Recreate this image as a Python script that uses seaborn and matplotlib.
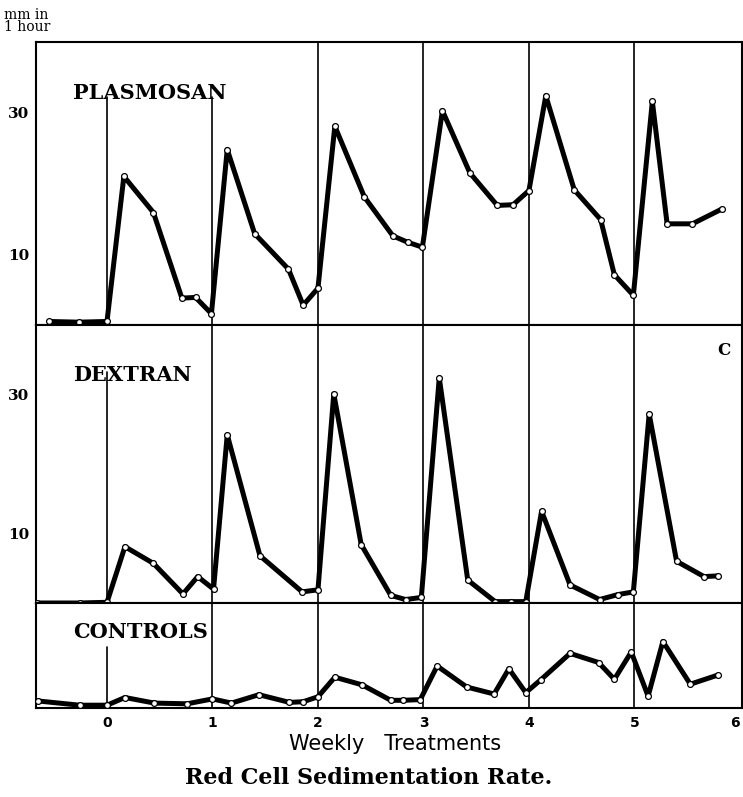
import numpy as np
import pandas as pd
import matplotlib
matplotlib.use("Agg")
import matplotlib.pyplot as plt
import seaborn as sns

# ---- data (x in weeks, y in mm in 1 hour) ----
plasmosan_x = [-0.55, -0.27, 0.0, 0.16, 0.44, 0.71, 0.84, 0.99, 1.14, 1.40, 1.72, 1.86, 2.0, 2.16,
               2.44, 2.71, 2.85, 2.99, 3.18, 3.44, 3.70, 3.85, 4.0, 4.16, 4.43, 4.68, 4.81, 4.99,
               5.17, 5.31, 5.55, 5.83]
plasmosan_y = [0.5, 0.4, 0.5, 21.0, 15.9, 3.8, 3.9, 1.6, 24.8, 12.9, 7.9, 2.8, 5.2, 28.1,
               18.1, 12.6, 11.7, 11.0, 30.3, 21.5, 16.9, 17.0, 19.0, 32.4, 19.1, 14.9, 7.1, 4.2,
               31.6, 14.3, 14.3, 16.4]

dextran_x = [-0.66, -0.26, 0.0, 0.17, 0.44, 0.72, 0.86, 1.01, 1.14, 1.45, 1.85, 2.0, 2.15, 2.41,
             2.69, 2.83, 2.98, 3.15, 3.42, 3.68, 3.83, 3.97, 4.12, 4.39, 4.67, 4.84, 4.99, 5.14,
             5.40, 5.66, 5.79]
dextran_y = [0.0, 0.0, 0.1, 8.1, 5.7, 1.3, 3.8, 2.0, 24.2, 6.8, 1.6, 1.9, 30.1, 8.4,
             1.1, 0.5, 0.8, 32.4, 3.3, 0.2, 0.2, 0.2, 13.2, 2.6, 0.5, 1.2, 1.6, 27.2,
             6.0, 3.8, 3.9]

controls_x = [-0.65, -0.26, 0.0, 0.17, 0.45, 0.76, 1.0, 1.18, 1.44, 1.73, 1.86, 2.0, 2.16, 2.42,
              2.69, 2.81, 2.97, 3.13, 3.41, 3.67, 3.81, 3.97, 4.11, 4.39, 4.66, 4.81, 4.97, 5.13,
              5.27, 5.53, 5.79]
controls_y = [1.0, 0.4, 0.4, 1.5, 0.7, 0.6, 1.3, 0.7, 1.9, 0.8, 0.9, 1.6, 4.4, 3.3,
              1.1, 1.1, 1.2, 6.0, 3.0, 2.0, 5.6, 2.2, 4.0, 7.8, 6.5, 4.1, 8.0, 1.7,
              9.5, 3.4, 4.7]

panel_names = ["PLASMOSAN", "DEXTRAN", "CONTROLS"]
week_ticks = [0, 1, 2, 3, 4, 5, 6]
week_labels = ["0", "1", "2", "3", "4", "5", "6"]
ytick_labels = {"PLASMOSAN": [10, 30], "DEXTRAN": [10, 30], "CONTROLS": []}

sns.set_theme(style="white")
plt.rcParams["font.family"] = ["DejaVu Sans"]
plt.rcParams["text.color"] = "black"
plt.rcParams["xtick.color"] = "black"
plt.rcParams["ytick.color"] = "black"
plt.rcParams["xtick.labelcolor"] = "black"
plt.rcParams["ytick.labelcolor"] = "black"

W, H = 743, 797
fig = plt.figure(figsize=(W / 100, H / 100), dpi=100)

def fy(px):
    return 1 - px / H

left, right = 36 / W, 742 / W
panels = [
    ("PLASMOSAN", plasmosan_x, plasmosan_y, 42, 325, 40, [10, 20, 30], 97),
    ("DEXTRAN", dextran_x, dextran_y, 325, 603, 40, [10, 20, 30], 372),
    ("CONTROLS", controls_x, controls_y, 603, 708, 15, [10], 647),
]

axes = []
for name, xs, ys, top, bot, ymax, yt, vstart in panels:
    ax = fig.add_axes([left, fy(bot), right - left, (bot - top) / H])
    axes.append(ax)
    df = pd.DataFrame({"week": xs, "rate": ys})
    ax.set_xlim(-0.673, 6.02)
    ax.set_ylim(0, ymax)
    # weekly treatment lines
    for wk in range(6):
        if wk == 0 or (wk == 1 and name == "PLASMOSAN"):
            frac = (bot - vstart) / (bot - top)
            ax.axvline(wk, ymin=0, ymax=frac, color="black", lw=1.2, zorder=1)
        else:
            ax.axvline(wk, color="black", lw=1.2, zorder=1)
    sns.lineplot(data=df, x="week", y="rate", ax=ax, color="black", lw=3.6,
                 marker="o", markersize=4.2, markerfacecolor="white",
                 markeredgecolor="black", markeredgewidth=0.9, zorder=3)
    ax.set_xlabel("")
    ax.set_ylabel("")
    ax.set_yticks(yt)
    ax.set_yticklabels([str(v) if v in ytick_labels[name] else "" for v in yt],
                       fontsize=11, fontweight="bold", family="DejaVu Serif", color="black")
    ax.tick_params(axis="y", direction="out", length=3, width=1.2, pad=2, colors="black")
    for s in ax.spines.values():
        s.set_color("black")
        s.set_linewidth(1.5)
    ax.text(0.052, 0.82 if name != "CONTROLS" else 0.72, name, transform=ax.transAxes,
            fontsize=15, fontweight="bold", family="DejaVu Serif", va="center", ha="left",
            color="black")
    ax.grid(False)
    if name != "CONTROLS":
        ax.set_xticks([])
    else:
        ax.set_xticks(week_ticks)
        labs = ax.set_xticklabels(week_labels, fontsize=10, fontweight="bold", color="black")
        labs[-1].set_horizontalalignment("right")
        ax.tick_params(axis="x", length=0, pad=6, colors="black")

axes[1].text(0.975, 0.91, "C", transform=axes[1].transAxes, fontsize=12,
             fontweight="bold", family="DejaVu Serif", ha="center", va="center", color="black")

fig.text(395 / W, fy(744), "Weekly   Treatments", ha="center", va="center",
         fontsize=15, color="black")
fig.text(369 / W, fy(778), "Red Cell Sedimentation Rate.", ha="center", va="center",
         fontsize=16, fontweight="bold", family="DejaVu Serif", color="black")
fig.text(4 / W, fy(21), "mm in\n1 hour", ha="left", va="center", fontsize=10,
         family="DejaVu Serif", linespacing=0.85, color="black")

fig.savefig("out.png", dpi=100, facecolor="white")
